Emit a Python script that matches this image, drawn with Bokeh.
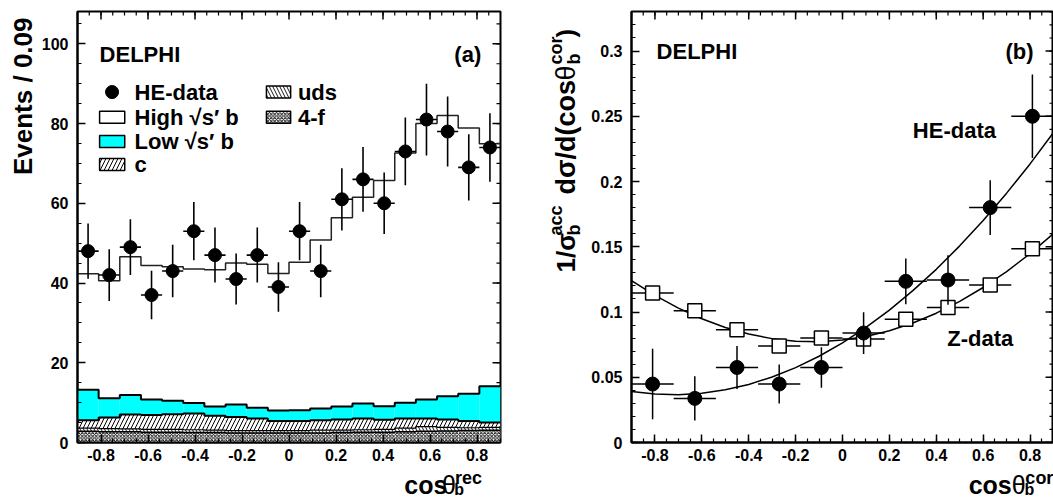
import numpy as np
from bokeh.plotting import figure
from bokeh.models import Range1d, FixedTicker, CustomJSTickFormatter, Label
from bokeh.layouts import row, column
from bokeh.embed import file_html
from bokeh.resources import INLINE

FONT = "Liberation Sans"

# ---------------- panel (a) data ----------------
bin_edges_a = np.linspace(-0.9, 0.9, 21)
he_counts = [48, 42, 49, 37, 43, 53, 47, 41, 47, 39, 53, 43, 61, 66, 60, 73, 81, 78, 69, 74]
he_counts_err = [6.9, 6.5, 7.0, 6.1, 6.6, 7.3, 6.9, 6.4, 6.9, 6.2, 7.3, 6.6, 7.8, 8.1, 7.7, 8.5, 9.0, 8.8, 8.3, 8.6]
# cumulative stack tops (4-f, +uds, +c, +Low sqrt(s') b, +High sqrt(s') b)
top_4f = [2.8, 2.7, 2.7, 2.6, 2.6, 2.5, 2.5, 2.4, 2.4, 2.4, 2.4, 2.4, 2.5, 2.6, 2.6, 2.7, 2.8, 2.9, 3.0, 3.1]
top_uds = [3.6, 3.5, 3.4, 3.3, 3.3, 3.2, 3.1, 3.0, 3.0, 3.0, 3.0, 3.1, 3.1, 3.2, 3.3, 3.6, 4.0, 3.8, 3.7, 3.8]
top_c = [5.6, 6.3, 7.0, 6.9, 7.1, 7.3, 6.7, 6.4, 6.0, 5.4, 5.4, 5.6, 5.8, 6.0, 5.7, 6.0, 6.0, 5.8, 5.4, 5.0]
top_low_b = [13.2, 11.1, 11.9, 10.8, 10.5, 9.9, 9.0, 9.5, 8.7, 8.0, 8.1, 8.5, 9.0, 9.8, 9.1, 10.0, 10.8, 11.6, 12.2, 14.1]
top_high_b = [42.3, 40.6, 46.6, 44.4, 44.1, 43.5, 43.3, 45.0, 44.7, 42.4, 45.2, 50.8, 56.4, 61.5, 65.7, 72.6, 80.0, 82.0, 78.9, 74.9]

# ---------------- panel (b) data ----------------
bin_centers_b = [-0.81, -0.63, -0.45, -0.27, -0.09, 0.09, 0.27, 0.45, 0.63, 0.81]
bin_half_b = 0.09
he_xsec = [0.0448, 0.0338, 0.0575, 0.0448, 0.0575, 0.0839, 0.1235, 0.1245, 0.180, 0.250]
he_xsec_err = [0.027, 0.017, 0.0165, 0.015, 0.0155, 0.016, 0.0175, 0.019, 0.021, 0.032]
z_xsec = [0.1145, 0.1010, 0.0864, 0.0740, 0.0800, 0.0793, 0.0945, 0.1035, 0.1207, 0.1485]
z_xsec_err = [0.003, 0.003, 0.003, 0.003, 0.003, 0.003, 0.003, 0.003, 0.003, 0.003]
fit_x = [-0.9, -0.8, -0.7, -0.6, -0.5, -0.4, -0.3, -0.2, -0.1, 0.0,
         0.1, 0.2, 0.3, 0.4, 0.5, 0.6, 0.7, 0.8, 0.9]
he_fit = [0.0390, 0.0371, 0.0366, 0.0377, 0.0404, 0.0445, 0.0502, 0.0574, 0.0661, 0.0764,
          0.0882, 0.1015, 0.1164, 0.1327, 0.1507, 0.1701, 0.1911, 0.2135, 0.2376]
z_fit = [0.1241, 0.1127, 0.1030, 0.0948, 0.0881, 0.0831, 0.0796, 0.0776, 0.0773, 0.0785,
         0.0813, 0.0856, 0.0916, 0.0991, 0.1081, 0.1188, 0.1310, 0.1447, 0.1601]

x_ticks = [-0.8, -0.6, -0.4, -0.2, 0, 0.2, 0.4, 0.6, 0.8]
x_minor = [round(-0.9 + 0.05 * i, 2) for i in range(37)]
y_ticks_a = [0, 20, 40, 60, 80, 100]
y_minor_a = [5 * i for i in range(22)]
y_ticks_b = [0, 0.05, 0.1, 0.15, 0.2, 0.25, 0.3]
y_minor_b = [round(0.01 * i, 2) for i in range(34)]

# ---------------- layout geometry (pixels) ----------------
PAGE_H = 499
PANEL_H = 467
XT_H = PAGE_H - PANEL_H
B_TOP, B_BOTTOM = 11, 25
FRAME_H = PANEL_H - B_TOP - B_BOTTOM
FRAME_W = 423
Y_END_A = 108.1
Y_END_B = 0.3303
YT_A_W = 38
PA_W, PA_L = 484, 39
PA_R = PA_W - PA_L - FRAME_W
YT_B_W = 66
PB_W, PB_L = 465, 42
PB_R = PB_W - PB_L - FRAME_W
MID = 0.36  # distance (in font sizes) from baseline to the "middle" anchor

fmt_code = "return String(parseFloat(tick.toFixed(3)));"


def style_axis(ax, ticks, minor, standoff):
    ax.ticker = FixedTicker(ticks=ticks, minor_ticks=minor)
    ax.formatter = CustomJSTickFormatter(code=fmt_code)
    ax.major_tick_in = 8
    ax.major_tick_out = 0
    ax.minor_tick_in = 4
    ax.minor_tick_out = 0
    ax.major_tick_line_color = "black"
    ax.major_tick_line_width = 1.5
    ax.minor_tick_line_color = "black"
    ax.minor_tick_line_width = 1.2
    ax.axis_line_color = "black"
    ax.axis_line_width = 2
    ax.major_label_text_font = FONT
    ax.major_label_text_font_style = "bold"
    ax.major_label_text_font_size = "16px"
    ax.major_label_text_color = "black"
    ax.major_label_standoff = standoff


def make_panel(width, bl, br, y_end, y_ticks, y_minor):
    p = figure(width=width, height=PANEL_H, x_range=Range1d(-0.9, 0.9), y_range=Range1d(0, y_end),
               output_backend="svg", toolbar_location=None,
               min_border_left=bl, min_border_right=br, min_border_top=B_TOP,
               min_border_bottom=B_BOTTOM)
    p.outline_line_color = "black"
    p.outline_line_width = 2
    p.xgrid.visible = False
    p.ygrid.visible = False
    p.background_fill_color = "white"
    p.border_fill_color = "white"
    style_axis(p.xaxis[0], x_ticks, x_minor, 6)
    style_axis(p.yaxis[0], y_ticks, y_minor, 9)
    # inward ticks on the top and right frame edges
    xpp = 1.8 / FRAME_W
    ypp = y_end / FRAME_H
    for xs, ln, lw in [(x_ticks, 8, 1.5), (x_minor, 4, 1.2)]:
        p.segment(x0=xs, y0=[y_end] * len(xs), x1=xs, y1=[y_end - ln * ypp] * len(xs),
                  line_color="black", line_width=lw)
    for ys, ln, lw in [(y_ticks, 8, 1.5), (y_minor, 4, 1.2)]:
        p.segment(x0=[0.9] * len(ys), y0=ys, x1=[0.9 - ln * xpp] * len(ys), y1=ys,
                  line_color="black", line_width=lw)
    return p


def make_title_fig(width, height):
    f = figure(width=width, height=height, x_range=Range1d(0, width), y_range=Range1d(0, height),
               output_backend="svg", toolbar_location=None, x_axis_type=None, y_axis_type=None,
               min_border=0)
    f.outline_line_color = None
    f.xgrid.visible = False
    f.ygrid.visible = False
    f.background_fill_color = "white"
    f.border_fill_color = "white"
    return f


def text(p, x, y, s, size, align="left", angle=0, style="bold"):
    p.add_layout(Label(x=x, y=y, text=s, text_font=FONT, text_font_style=style,
                       text_font_size=f"{size}px", text_color="black", text_align=align,
                       text_baseline="middle", angle=angle))


def htext(p, px, base_py, x0, s, size, align="left", style="bold"):
    """horizontal text in a title strip: page x, page baseline y"""
    text(p, px - x0, PAGE_H - (base_py - MID * size), s, size, align=align, style=style)


def vtext(p, base_px, start_py, x0, s, size, style="bold"):
    """text rotated 90deg (reading upward): page baseline x, page y where it starts"""
    text(p, base_px - MID * size - x0, PAGE_H - start_py, s, size, angle=np.pi / 2, style=style)


# ================= panel (a) =================
pa = make_panel(PA_W, PA_L, PA_R, Y_END_A, y_ticks_a, y_minor_a)
left = bin_edges_a[:-1]
right = bin_edges_a[1:]
centers = (left + right) / 2

hatch_4f = dict(fill_color="white", hatch_pattern="diagonal_cross", hatch_scale=3.5,
                hatch_color="black", hatch_weight=0.9)
hatch_uds = dict(fill_color="white", hatch_pattern="left_diagonal_line", hatch_scale=7,
                 hatch_color="black", hatch_weight=0.9)
hatch_c = dict(fill_color="white", hatch_pattern="right_diagonal_line", hatch_scale=8,
               hatch_color="black", hatch_weight=1)
fill_low = dict(fill_color="#00ffff")

pa.quad(left=left, right=right, bottom=0, top=top_4f, line_color=None, **hatch_4f)
pa.quad(left=left, right=right, bottom=top_4f, top=top_uds, line_color=None, **hatch_uds)
pa.quad(left=left, right=right, bottom=top_uds, top=top_c, line_color=None, **hatch_c)
pa.quad(left=left, right=right, bottom=top_c, top=top_low_b, line_color=None, **fill_low)
for tops, lw, col in [(top_4f, 1.5, "black"), (top_uds, 1.2, "black"), (top_c, 2, "black"),
                      (top_low_b, 2, "black"), (top_high_b, 1.5, "#222222")]:
    pa.step(x=bin_edges_a, y=list(tops) + [tops[-1]], mode="after", line_color=col, line_width=lw)

cnt = np.array(he_counts, dtype=float)
err = np.array(he_counts_err)
pa.segment(x0=centers, y0=cnt - err, x1=centers, y1=cnt + err, line_color="black", line_width=1.6)
pa.segment(x0=left, y0=cnt, x1=right, y1=cnt, line_color="black", line_width=1.6)
pa.scatter(x=centers, y=cnt, marker="circle", size=13, fill_color="black", line_color="black")

# legend (a)
text(pa, -0.806, 97.2, "DELPHI", 22)
text(pa, 0.818, 97.2, "(a)", 22, align="right")
pa.scatter(x=[-0.753], y=[87.9], marker="circle", size=13, fill_color="black", line_color="black")
text(pa, -0.657, 87.9, "HE-data", 22)
box_l, box_r, col2_l, col2_r = -0.806, -0.699, -0.096, 0.007
rows_y = [87.9, 81.6, 75.5, 69.7]
bh = 1.5
pa.quad(left=[box_l], right=[box_r], bottom=[rows_y[1] - bh], top=[rows_y[1] + bh],
        fill_color="white", line_color="black", line_width=1.5)
text(pa, -0.657, rows_y[1], "High √s′ b", 22)
pa.quad(left=[box_l], right=[box_r], bottom=[rows_y[2] - bh], top=[rows_y[2] + bh],
        line_color="black", line_width=1.5, **fill_low)
text(pa, -0.657, rows_y[2], "Low √s′ b", 22)
pa.quad(left=[box_l], right=[box_r], bottom=[rows_y[3] - bh], top=[rows_y[3] + bh],
        line_color="black", line_width=1.5, **hatch_c)
text(pa, -0.657, rows_y[3], "c", 22)
pa.quad(left=[col2_l], right=[col2_r], bottom=[rows_y[0] - bh], top=[rows_y[0] + bh],
        line_color="black", line_width=1.5, **hatch_uds)
text(pa, 0.038, rows_y[0], "uds", 22)
pa.quad(left=[col2_l], right=[col2_r], bottom=[rows_y[1] - bh], top=[rows_y[1] + bh],
        line_color="black", line_width=1.5, **hatch_4f)
text(pa, 0.038, rows_y[1], "4-f", 22)

# ================= panel (b) =================
pb = make_panel(PB_W, PB_L, PB_R, Y_END_B, y_ticks_b, y_minor_b)
pb.line(x=fit_x, y=he_fit, line_color="black", line_width=1.5)
pb.line(x=fit_x, y=z_fit, line_color="black", line_width=1.5)

xb = np.array(bin_centers_b)
hy = np.array(he_xsec)
he_ = np.array(he_xsec_err)
zy = np.array(z_xsec)
ze = np.array(z_xsec_err)
pb.segment(x0=xb - bin_half_b, y0=zy, x1=xb + bin_half_b, y1=zy, line_color="black", line_width=1.5)
pb.segment(x0=xb, y0=zy - ze, x1=xb, y1=zy + ze, line_color="black", line_width=1.5)
pb.scatter(x=xb, y=zy, marker="square", size=14, fill_color="white", line_color="black",
           line_width=1.5)
pb.segment(x0=xb - bin_half_b, y0=hy, x1=xb + bin_half_b, y1=hy, line_color="black", line_width=1.5)
pb.segment(x0=xb, y0=hy - he_, x1=xb, y1=hy + he_, line_color="black", line_width=1.5)
pb.scatter(x=xb, y=hy, marker="circle", size=14, fill_color="black", line_color="black")

text(pb, -0.793, 0.3, "DELPHI", 22)
text(pb, 0.815, 0.3, "(b)", 22, align="right")
text(pb, 0.30, 0.239, "HE-data", 22)
text(pb, 0.447, 0.0795, "Z-data", 22)

# ================= axis titles (separate strips) =================
# y title (a)
yta = make_title_fig(YT_A_W, PAGE_H)
text(yta, 31.5 - MID * 26, PAGE_H - 17, "Events / 0.09", 26, align="right", angle=np.pi / 2)

# x title (a)
xta = make_title_fig(PA_W, XT_H)
xa0 = YT_A_W
htext(xta, 412, 493, xa0, "cos", 25)
htext(xta, 455, 493, xa0, "θ", 25, style="normal")
htext(xta, 470, 484, xa0, "rec", 18)
htext(xta, 469, 495, xa0, "b", 16)

# y title (b)
ytb = make_title_fig(YT_B_W, PAGE_H)
xb0 = YT_A_W + PA_W
vtext(ytb, 575, 272, xb0, "1/σ", 26)
vtext(ytb, 580, 235, xb0, "b", 18)
vtext(ytb, 562, 235, xb0, "acc", 18)
vtext(ytb, 575, 194, xb0, "dσ/d(cos", 27)
vtext(ytb, 575, 80, xb0, "θ", 27, style="normal")
vtext(ytb, 580, 64, xb0, "b", 18)
vtext(ytb, 562, 64, xb0, "cor", 18)
vtext(ytb, 575, 37, xb0, ")", 26)

# x title (b)
xtb = make_title_fig(PB_W, XT_H)
xc0 = YT_A_W + PA_W + YT_B_W
htext(xtb, 1007, 493, xc0, "cos", 25, align="right")
htext(xtb, 1007, 493, xc0, "θ", 25, style="normal")
htext(xtb, 1022, 484, xc0, "cor", 18)
htext(xtb, 1021, 495, xc0, "b", 16)

layout = row(yta, column(pa, xta), ytb, column(pb, xtb))
open("out.html", "w").write(file_html(layout, INLINE))
